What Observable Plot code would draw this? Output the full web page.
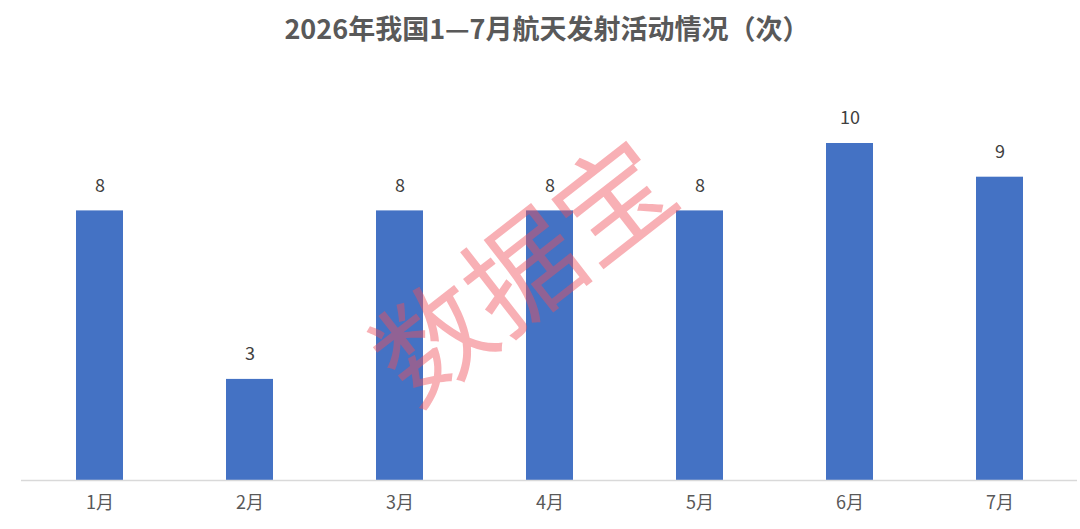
<!DOCTYPE html>
<html>
<head>
<meta charset="utf-8">
<script src="https://cdn.jsdelivr.net/npm/d3@7"></script>
<script src="https://cdn.jsdelivr.net/npm/@observablehq/plot@0.6"></script>
<style>
  html, body { margin: 0; padding: 0; background: #fff; }
  #title { height: 55px; line-height: 56px; text-align: center; padding-left: 14px; font-family: "Noto Sans CJK SC", "Noto Sans", sans-serif; font-weight: 700; font-size: 27px; color: #595959; }
  svg { display: block; }
</style>
</head>
<body>
<div id="title">2026年我国1—7月航天发射活动情况（次）</div>
<div id="chart"></div>
<script>
const months = ["1月", "2月", "3月", "4月", "5月", "6月", "7月"];
const launches = [8, 3, 8, 8, 8, 10, 9];
const watermark = ["数据宝"];

const data = months.map((m, i) => ({month: m, value: launches[i]}));

const chart = Plot.plot({
  width: 1080,
  height: 474,
  marginTop: 88,
  marginBottom: 49,
  marginLeft: 21,
  marginRight: 3,
  style: {fontFamily: "\"Noto Sans CJK SC\", \"Noto Sans\", sans-serif", background: "#fff"},
  x: {domain: months, paddingInner: 0.69, paddingOuter: 0.345, label: null},
  y: {domain: [0, 10], axis: null},
  marks: [
    Plot.barY(data, {x: "month", y: "value", fill: "#4472C4"}),
    Plot.ruleY([0], {stroke: "#d9d9d9", strokeWidth: 1.5}),
    Plot.text(data, {x: "month", y: "value", text: d => String(d.value), dy: -25, fontSize: 18, fill: "#404040"}),
    Plot.axisX({tickSize: 0, tickPadding: 16, fontSize: 18, color: "#595959", label: null}),
    Plot.text(watermark, {
      text: d => d,
      frameAnchor: "top-left",
      dx: 505,
      dy: 132,
      rotate: -38,
      fontSize: 114,
      fontWeight: 400,
      fill: "rgb(240,80,90)",
      fillOpacity: 0.45,
      textAnchor: "middle",
      lineAnchor: "middle"
    })
  ]
});
document.getElementById("chart").appendChild(chart);
</script>
</body>
</html>
